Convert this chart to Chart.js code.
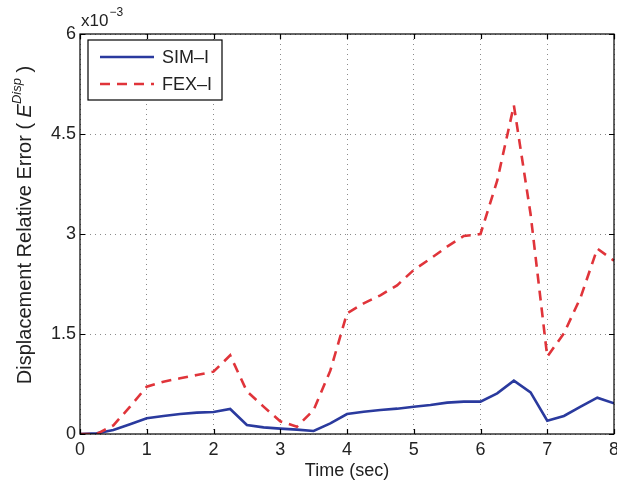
<!DOCTYPE html>
<html>
<head>
<meta charset="utf-8">
<script src="https://cdn.jsdelivr.net/npm/chart.js@4/dist/chart.umd.min.js"></script>
<style>
  html, body { margin: 0; padding: 0; background: #fff; }
  #wrap { width: 617px; height: 490px; position: relative; }
</style>
</head>
<body>
<div id="wrap"><canvas id="c" width="617" height="490"></canvas></div>
<script>
// Time samples (sec)
const timeSec = [0, 0.25, 0.5, 0.75, 1, 1.25, 1.5, 1.75, 2, 2.25, 2.5, 2.75, 3, 3.25, 3.5, 3.75,
                 4, 4.25, 4.5, 4.75, 5, 5.25, 5.5, 5.75, 6, 6.25, 6.5, 6.75, 7, 7.25, 7.5, 7.75, 8];
// Displacement relative error, in units of 1e-3
const simI = [0, 0.01, 0.06, 0.145, 0.235, 0.27, 0.30, 0.32, 0.33, 0.375, 0.135, 0.10, 0.08, 0.065, 0.045, 0.16,
              0.30, 0.335, 0.36, 0.38, 0.41, 0.435, 0.47, 0.485, 0.485, 0.61, 0.80, 0.625, 0.20, 0.27, 0.41, 0.545, 0.46];
const fexI = [0, 0, 0.13, 0.41, 0.71, 0.785, 0.835, 0.885, 0.935, 1.18, 0.64, 0.41, 0.19, 0.11, 0.36, 0.95,
              1.81, 1.96, 2.08, 2.23, 2.46, 2.63, 2.81, 2.97, 3.0, 3.8, 4.93, 3.3, 1.16, 1.51, 2.05, 2.78, 2.6];
const seriesNames = ['SIM\u2013I', 'FEX\u2013I'];
const xTicks = [0, 1, 2, 3, 4, 5, 6, 7, 8];
const yTicks = [0, 1.5, 3, 4.5, 6];
const yTickLabels = ['0', '1.5', '3', '4.5', '6'];

const FONT = "'Liberation Sans', Arial, Helvetica, sans-serif";

const toPoints = (ys) => timeSec.map((t, i) => ({ x: t, y: ys[i] }));

// Frame, inward tick marks, legend box, multiplier and axis titles
const decorations = {
  id: 'decorations',
  afterDatasetsDraw(chart) {
    const { ctx, chartArea: a, scales: { x, y } } = chart;
    ctx.save();
    // frame
    ctx.strokeStyle = '#000';
    ctx.lineWidth = 1.2;
    ctx.strokeRect(a.left, a.top, a.right - a.left, a.bottom - a.top);
    // inward ticks
    const tl = 5;
    ctx.beginPath();
    xTicks.forEach(v => {
      const px = Math.round(x.getPixelForValue(v)) + 0.5;
      ctx.moveTo(px, a.bottom); ctx.lineTo(px, a.bottom - tl);
      ctx.moveTo(px, a.top); ctx.lineTo(px, a.top + tl);
    });
    yTicks.forEach(v => {
      const py = Math.round(y.getPixelForValue(v)) + 0.5;
      ctx.moveTo(a.left, py); ctx.lineTo(a.left + tl, py);
      ctx.moveTo(a.right, py); ctx.lineTo(a.right - tl, py);
    });
    ctx.stroke();

    // legend
    const lx = 88, ly = 40, lw = 134, lh = 60;
    ctx.fillStyle = '#fff';
    ctx.fillRect(lx, ly, lw, lh);
    ctx.strokeStyle = '#000';
    ctx.lineWidth = 1.2;
    ctx.strokeRect(lx, ly, lw, lh);
    chart.data.datasets.forEach((ds, i) => {
      const yy = ly + 17 + i * 27;
      ctx.save();
      ctx.strokeStyle = ds.borderColor;
      ctx.lineWidth = ds.borderWidth;
      ctx.setLineDash(ds.borderDash || []);
      ctx.beginPath();
      ctx.moveTo(lx + 12, yy); ctx.lineTo(lx + 66, yy);
      ctx.stroke();
      ctx.restore();
      ctx.fillStyle = '#222';
      ctx.font = '18px ' + FONT;
      ctx.textAlign = 'left';
      ctx.textBaseline = 'middle';
      ctx.fillText(ds.label, lx + 74, yy + 1);
    });

    // multiplier label
    ctx.fillStyle = '#222';
    ctx.textBaseline = 'alphabetic';
    ctx.textAlign = 'left';
    ctx.font = '17px ' + FONT;
    ctx.fillText('x10', 81, 26);
    const w10 = ctx.measureText('x10').width;
    ctx.font = '12px ' + FONT;
    ctx.fillText('\u22123', 81 + w10 + 1, 16);

    // x title
    ctx.font = '18px ' + FONT;
    ctx.textAlign = 'center';
    ctx.textBaseline = 'middle';
    ctx.fillText('Time (sec)', (a.left + a.right) / 2, 471);

    // y title (rotated, with italic superscripted symbol)
    const parts = [
      { t: 'Displacement Relative Error ( ', f: '20px ' + FONT, dy: 0 },
      { t: 'E', f: 'italic 20px ' + FONT, dy: 0 },
      { t: 'Disp', f: 'italic 13px ' + FONT, dy: -10 },
      { t: ' )', f: '20px ' + FONT, dy: 0 }
    ];
    let total = 0;
    parts.forEach(p => { ctx.font = p.f; p.w = ctx.measureText(p.t).width; total += p.w; });
    ctx.translate(31, 225);
    ctx.rotate(-Math.PI / 2);
    ctx.textAlign = 'left';
    ctx.textBaseline = 'alphabetic';
    let cx = -total / 2;
    parts.forEach(p => {
      ctx.font = p.f;
      ctx.fillText(p.t, cx, p.dy);
      cx += p.w;
    });
    ctx.restore();
  }
};

new Chart(document.getElementById('c'), {
  type: 'line',
  data: {
    datasets: [
      {
        label: seriesNames[0],
        data: toPoints(simI),
        borderColor: '#2a3a9e',
        borderWidth: 2.6,
        pointRadius: 0,
        tension: 0,
        order: 1
      },
      {
        label: seriesNames[1],
        data: toPoints(fexI),
        borderColor: '#e0343a',
        borderWidth: 2.6,
        borderDash: [10, 7],
        pointRadius: 0,
        tension: 0,
        order: 0
      }
    ]
  },
  options: {
    responsive: false,
    animation: false,
    devicePixelRatio: 1,
    layout: { padding: { left: 0, right: 3, top: 34, bottom: 0 } },
    plugins: { legend: { display: false }, tooltip: { enabled: false } },
    scales: {
      x: {
        type: 'linear',
        min: 0, max: 8,
        afterBuildTicks: (s) => { s.ticks = xTicks.map(v => ({ value: v })); },
        afterFit: (s) => { s.height = 56; s.paddingLeft = 0; s.paddingRight = 0; },
        ticks: {
          color: '#222',
          font: { family: FONT, size: 18 },
          padding: 5,
          maxRotation: 0,
          callback: (v) => String(v)
        },
        grid: { color: '#8a8a8a', lineWidth: 1, drawTicks: false },
        border: { display: false, dash: [1, 4] }
      },
      y: {
        type: 'linear',
        min: 0, max: 6,
        afterBuildTicks: (s) => { s.ticks = yTicks.map(v => ({ value: v })); },
        afterFit: (s) => { s.width = 80; s.paddingTop = 0; s.paddingBottom = 0; },
        ticks: {
          color: '#222',
          font: { family: FONT, size: 18 },
          padding: 4,
          callback: (v) => yTickLabels[yTicks.indexOf(v)]
        },
        grid: { color: '#8a8a8a', lineWidth: 1, drawTicks: false },
        border: { display: false, dash: [1, 4] }
      }
    }
  },
  plugins: [decorations]
});
</script>
</body>
</html>
